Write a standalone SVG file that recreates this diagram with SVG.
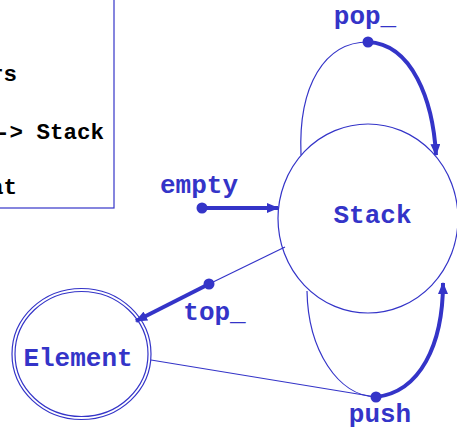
<svg xmlns="http://www.w3.org/2000/svg" width="457" height="429" viewBox="0 0 457 429">
  <style>
    .node { fill: #ffffff; stroke: #3434c8; stroke-width: 1.2; }
    .thin { fill: none; stroke: #3434c8; stroke-width: 1.2; }
    .thick { fill: none; stroke: #3434c8; stroke-width: 4; }
    .dot { fill: #3434c8; }
    .lbl { font-family: "Liberation Mono", "DejaVu Sans Mono", monospace; font-weight: bold; font-size: 26px; fill: #3434c8; text-anchor: middle; }
    .sig { font-family: "Liberation Mono", "DejaVu Sans Mono", monospace; font-weight: bold; font-size: 22.5px; fill: #000000; text-anchor: end; }
    .box { fill: #ffffff; stroke: #3434c8; stroke-width: 1.2; }
  </style>
  <defs>
    <marker id="arrow" markerWidth="12" markerHeight="10" viewBox="0 0 12 10" refX="11" refY="5" orient="auto" markerUnits="userSpaceOnUse">
      <path d="M0,0 L12,5 L0,10 Z" fill="#3434c8"/>
    </marker>
  </defs>

  <rect width="457" height="429" fill="#ffffff"/>

  <!-- signature box -->
  <g id="signature">
    <rect class="box" x="-2" y="-2" width="116" height="210"/>
    <text class="sig" x="17" y="81">rs</text>
    <text class="sig" x="104" y="139">-&gt; Stack</text>
    <text class="sig" x="17" y="194">at</text>
  </g>

  <!-- nodes -->
  <g id="stack">
    <ellipse class="node" cx="368" cy="218.5" rx="90" ry="94.5"/>
    <text class="lbl" x="372.5" y="223">Stack</text>
  </g>

  <g id="element">
    <ellipse class="node" cx="81.5" cy="354" rx="69.5" ry="65.5"/>
    <ellipse class="node" cx="81.5" cy="354" rx="66.5" ry="62.5"/>
    <text class="lbl" x="78" y="366">Element</text>
  </g>

  <!-- connectors -->
  <g id="connectors">
    <!-- pop_ : Stack -> Stack -->
    <path class="thin" d="M301,155 C298,85 325,42 368,42"/>
    <path class="thick" d="M368,42 C412,44 433,100 436,155" marker-end="url(#arrow)"/>
    <circle class="dot" cx="368" cy="42" r="5.5"/>

    <!-- empty : -> Stack -->
    <path class="thick" d="M202,208 L278,208" marker-end="url(#arrow)"/>
    <circle class="dot" cx="202" cy="208" r="5.5"/>

    <!-- top_ : Stack -> Element -->
    <path class="thin" d="M285,247 L209,284"/>
    <path class="thick" d="M209,284 L136,321" marker-end="url(#arrow)"/>
    <circle class="dot" cx="209" cy="284" r="5.5"/>

    <!-- push : Element Stack -> Stack -->
    <path class="thin" d="M151,360 L376,397"/>
    <path class="thin" d="M307,291 C308,350 338,396 376,397"/>
    <path class="thick" d="M376,397 C420,392 443,345 443,283" marker-end="url(#arrow)"/>
    <circle class="dot" cx="376" cy="397" r="5.5"/>
  </g>

  <!-- operator labels -->
  <g id="labels">
    <text class="lbl" x="365" y="24">pop_</text>
    <text class="lbl" x="199" y="193">empty</text>
    <text class="lbl" x="214.5" y="320">top_</text>
    <text class="lbl" x="380" y="422">push</text>
  </g>
</svg>
